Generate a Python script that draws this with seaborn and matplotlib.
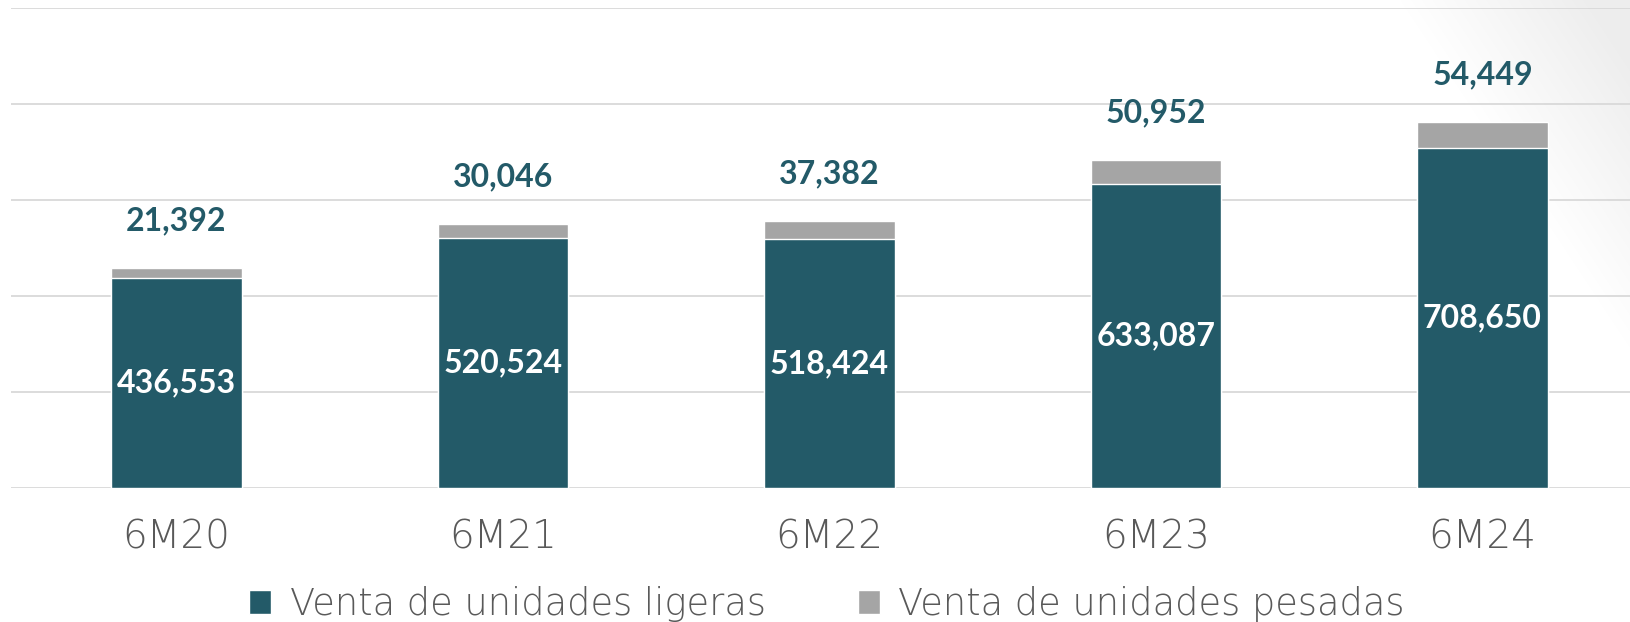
import numpy as np
import pandas as pd
import matplotlib
matplotlib.use('Agg')
import matplotlib.pyplot as plt
import seaborn as sns
from matplotlib.patches import Patch

periods = ['6M20', '6M21', '6M22', '6M23', '6M24']
ligeras = [436553, 520524, 518424, 633087, 708650]
pesadas = [21392, 30046, 37382, 50952, 54449]
series_names = ['Venta de unidades ligeras', 'Venta de unidades pesadas']

teal = '#235A68'
gray = '#A5A5A5'

sns.set_style('white')
plt.rcParams['font.family'] = ['Lato', 'DejaVu Sans']

df = pd.DataFrame({'periodo': periods, 'ligeras': ligeras, 'pesadas': pesadas})
df['total'] = df['ligeras'] + df['pesadas']

fig = plt.figure(figsize=(16.31, 6.22), dpi=100)

# soft gray shading in the top right corner (slide background)
bg = fig.add_axes([0, 0, 1, 1], zorder=-1)
yy, xx = np.mgrid[0:622, 0:1631]
d = ((xx - 1400) * 350 - yy * 231) / np.hypot(350, 231)
shade = 1 - 0.07 * np.clip(d / 160, 0, 1)
bg.imshow(np.dstack([shade] * 3), aspect='auto', extent=(0, 1631, 622, 0))
bg.axis('off')

ax = fig.add_axes([11.5 / 1631, 1 - 488 / 622, 1 - 11.5 / 1631, (488 - 8) / 622])
ax.set_facecolor('none')

# stacked: total in gray behind, light units in teal in front
sns.barplot(data=df, x='periodo', y='total', color=gray, saturation=1, width=0.4, ax=ax, zorder=2)
sns.barplot(data=df, x='periodo', y='ligeras', color=teal, saturation=1, width=0.4, ax=ax, zorder=3)

ax.bar_label(ax.containers[1], labels=[f'{v:,}' for v in ligeras], label_type='center',
             color='white', fontsize=23, fontweight='bold')
for i, (tot, p) in enumerate(zip(df['total'], pesadas)):
    ax.annotate(f'{p:,}', xy=(i, tot), xytext=(0, 34), textcoords='offset points',
                ha='center', va='center', color=teal, fontsize=23, fontweight='bold')

ax.set_ylim(0, 1000000)
ax.set_yticks(np.arange(0, 1000001, 200000))
ax.set_xlim(-0.505, 4.455)
ax.yaxis.grid(True, color='#D9D9D9', linewidth=1.3)
ax.set_axisbelow(True)
ax.tick_params(axis='y', left=False, labelleft=False)
ax.tick_params(axis='x', length=0, pad=22, labelsize=28, labelcolor='#595959')
for lab in ax.get_xticklabels():
    lab.set_family('DejaVu Sans')
    lab.set_fontweight('light')
ax.set_xlabel('')
ax.set_ylabel('')
sns.despine(ax=ax, left=True, bottom=True, top=True, right=True)

handles = [Patch(facecolor=teal), Patch(facecolor=gray)]
leg = fig.legend(handles, series_names, loc='center', bbox_to_anchor=(0.507, 1 - 604 / 622),
                 ncol=2, frameon=False, handlelength=0.6, handleheight=0.6,
                 handletextpad=0.5, columnspacing=2.5, labelcolor='#595959',
                 prop={'family': 'DejaVu Sans', 'weight': 'light', 'size': 26.5})

fig.savefig('out.png', dpi=100)
